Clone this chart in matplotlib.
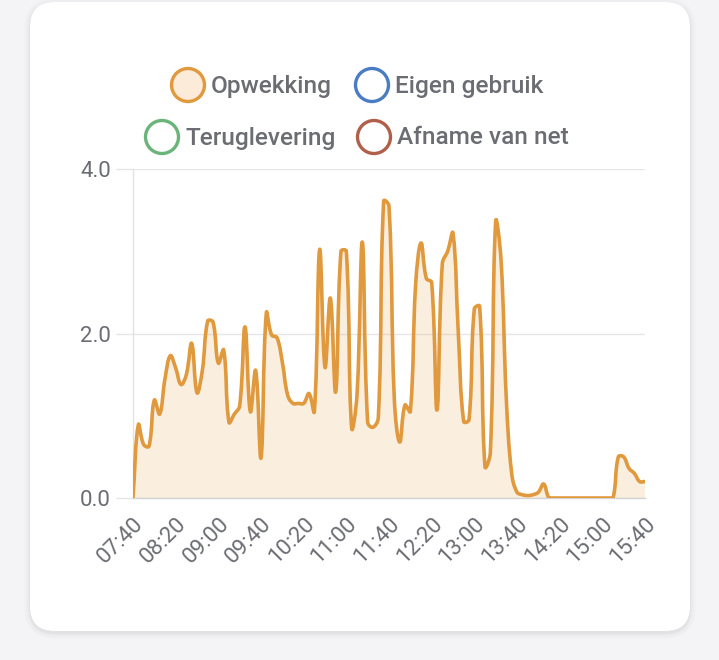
import numpy as np
import matplotlib
matplotlib.use("Agg")
import matplotlib.pyplot as plt
from matplotlib.path import Path
from matplotlib.patches import PathPatch, FancyBboxPatch, Circle

# ---------------- data ----------------
tick_labels = ["07:40", "08:20", "09:00", "09:40", "10:20", "11:00", "11:40",
               "12:20", "13:00", "13:40", "14:20", "15:00", "15:40"]
series_names = ["Opwekking", "Eigen gebruik", "Teruglevering", "Afname van net"]
series_colors = ["#e0993d", "#4a7cc4", "#6ab47a", "#b0604a"]
# Opwekking (kW), 5-minute samples from 07:40 to 15:40
opwekking = [0.00, 0.89, 0.65, 0.63, 1.19, 1.02, 1.45, 1.73, 1.58, 1.38,
             1.50, 1.88, 1.28, 1.55, 2.15, 2.14, 1.64, 1.80, 0.92, 1.02,
             1.12, 2.08, 1.05, 1.55, 0.49, 2.25, 1.98, 1.95, 1.65, 1.25,
             1.15, 1.15, 1.15, 1.27, 1.05, 3.02, 1.59, 2.43, 1.29, 3.00,
             3.00, 0.85, 1.25, 3.11, 0.92, 0.86, 0.98, 3.61, 3.55, 1.20,
             0.68, 1.13, 1.05, 2.60, 3.10, 2.67, 2.62, 1.07, 2.85, 3.00,
             3.22, 2.00, 0.93, 0.95, 2.30, 2.33, 0.38, 0.55, 3.36, 2.90,
             1.20, 0.30, 0.07, 0.04, 0.03, 0.04, 0.07, 0.17, 0.00, 0.00,
             0.00, 0.00, 0.00, 0.00, 0.00, 0.00, 0.00, 0.00, 0.00, 0.00,
             0.00, 0.50, 0.50, 0.36, 0.30, 0.20, 0.20]
y_ticks = [0.0, 2.0, 4.0]

# ---------------- figure ----------------
W, H, DPI = 719, 660, 100
fig = plt.figure(figsize=(W / DPI, H / DPI), dpi=DPI)
fig.patch.set_facecolor("#f4f4f6")
plt.rcParams["font.family"] = ["Roboto", "DejaVu Sans"]

def px(x, y):
    """pixel (from top-left) -> inches (from bottom-left)"""
    return (x / DPI, (H - y) / DPI)

T = fig.dpi_scale_trans
# soft card shadow + card
for g, a in [(6, 0.010), (4, 0.014), (2, 0.020), (1, 0.025)]:
    x0, y0 = px(30 - g, 631 + g + 2)
    w = (660 + 2 * g) / DPI
    h = (629 + 2 * g) / DPI
    fig.patches.append(FancyBboxPatch((x0, y0), w, h,
                                      boxstyle="round,pad=0,rounding_size=%f" % ((25 + g) / DPI),
                                      transform=T, facecolor="black", edgecolor="none",
                                      alpha=a, zorder=0))
x0, y0 = px(30, 631)
fig.patches.append(FancyBboxPatch((x0, y0), 660 / DPI, 629 / DPI,
                                  boxstyle="round,pad=0,rounding_size=%f" % (25 / DPI),
                                  transform=T, facecolor="white", edgecolor="none", zorder=1))

# ---------------- legend ----------------
leg_pos = [(188, 85), (372, 85), (162, 137), (374, 137)]
text_col = "#6b6d73"
for (cx, cy), name, col, k in zip(leg_pos, series_names, series_colors, range(4)):
    fc = "#fcebd8" if k == 0 else "white"
    fig.patches.append(Circle(px(cx, cy), 16.5 / DPI, transform=T, facecolor=fc,
                              edgecolor=col, linewidth=2.4, zorder=3))
    fig.text(*px(cx + 23, cy + 1), name, transform=T, ha="left", va="center",
             fontsize=17.6, fontweight="medium", color=text_col, zorder=3)

# ---------------- axes ----------------
L, R, TOP, BOT = 133, 645, 169, 498
ax = fig.add_axes([L / W, 1 - BOT / H, (R - L) / W, (BOT - TOP) / H])
ax.set_facecolor("none")
ax.set_zorder(2)

n = len(opwekking)
x = np.arange(n) * 5.0
y = np.array(opwekking, dtype=float)
xmin, xmax, ymin, ymax = 0.0, x[-1], 0.0, 4.0
sx = (R - L) / (xmax - xmin)
sy = (BOT - TOP) / (ymax - ymin)

# Chart.js style spline (tension 0.4, control points capped to chart area)
tension = 0.4
cp_prev = np.zeros((n, 2))
cp_next = np.zeros((n, 2))
for i in range(n):
    cur = np.array([x[i], y[i]])
    prv = np.array([x[i - 1], y[i - 1]]) if i > 0 else cur
    nxt = np.array([x[i + 1], y[i + 1]]) if i < n - 1 else cur
    d01 = np.hypot((cur[0] - prv[0]) * sx, (cur[1] - prv[1]) * sy)
    d12 = np.hypot((nxt[0] - cur[0]) * sx, (nxt[1] - cur[1]) * sy)
    tot = d01 + d12
    s01 = d01 / tot if tot > 0 else 0
    s12 = d12 / tot if tot > 0 else 0
    cp_prev[i] = cur - tension * s01 * (nxt - prv)
    cp_next[i] = cur + tension * s12 * (nxt - prv)
for arr in (cp_prev, cp_next):
    arr[:, 0] = np.clip(arr[:, 0], xmin, xmax)
    arr[:, 1] = np.clip(arr[:, 1], ymin, ymax)

verts = [(x[0], y[0])]
codes = [Path.MOVETO]
for i in range(n - 1):
    verts += [tuple(cp_next[i]), tuple(cp_prev[i + 1]), (x[i + 1], y[i + 1])]
    codes += [Path.CURVE4] * 3
line_path = Path(verts, codes)
fill_path = Path(verts + [(x[-1], 0), (x[0], 0), (x[0], y[0])],
                 codes + [Path.LINETO, Path.LINETO, Path.CLOSEPOLY])

ax.add_patch(PathPatch(fill_path, facecolor="#e0993d", alpha=0.16, edgecolor="none", zorder=2))
ax.add_patch(PathPatch(line_path, facecolor="none", edgecolor="#e0993d", linewidth=2.6,
                       capstyle="round", joinstyle="round", zorder=3))

ax.set_xlim(xmin, xmax)
ax.set_ylim(ymin, ymax)
for s in ["top", "right"]:
    ax.spines[s].set_visible(False)
ax.spines["left"].set_color("#e2e2e2")
ax.spines["bottom"].set_color("#d4d4d4")
ax.spines["left"].set_linewidth(1.0)
ax.spines["bottom"].set_linewidth(1.0)

ax.set_yticks(y_ticks)
ax.set_yticklabels(["%.1f" % v for v in y_ticks])
ax.yaxis.grid(True, color="#e6e6e6", linewidth=1.0)
ax.tick_params(axis="y", length=12, width=1.0, color="#e6e6e6", labelsize=16,
               labelcolor=text_col, pad=4)

ax.set_xticks(x[::8])
ax.set_xticklabels(tick_labels, rotation=45, ha="right", va="top",
                   rotation_mode="anchor")
ax.tick_params(axis="x", length=0, labelsize=16, labelcolor=text_col, pad=11)
ax.set_axisbelow(True)

fig.savefig("out.png", dpi=DPI, facecolor=fig.get_facecolor())
